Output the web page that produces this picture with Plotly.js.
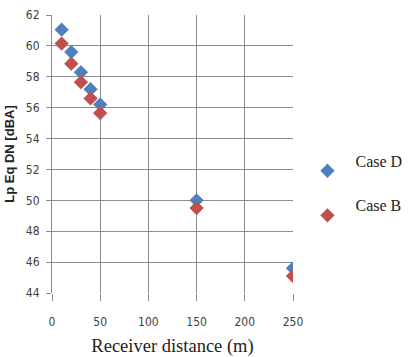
<!DOCTYPE html>
<html><head><meta charset="utf-8">
<script src="https://cdn.plot.ly/plotly-3.0.1.min.js"></script>
<style>html,body{margin:0;padding:0;background:#fff}#c{width:415px;height:357px}</style>
</head><body><div id="c"></div>
<script>
const distances = [10, 20, 30, 40, 50, 150, 250];
const caseD = [61.05, 59.6, 58.3, 57.2, 56.2, 50.0, 45.6];
const caseB = [60.15, 58.85, 57.65, 56.6, 55.65, 49.5, 45.1];
const xTicks = [0, 50, 100, 150, 200, 250];
const yTicks = [44, 46, 48, 50, 52, 54, 56, 58, 60, 62];
const seriesNames = ['Case D', 'Case B'];

const tickFont = {family: 'Liberation Sans Narrow, Arial Narrow, DejaVu Sans Condensed, sans-serif', size: 12, color: '#404040'};
const serif = 'Liberation Serif, Times New Roman, DejaVu Serif, serif';
const pad = '<br>&nbsp;';

const traces = [
  {x: distances, y: caseD, name: '&nbsp;&nbsp;' + seriesNames[0] + pad, legendgroup: 'd', type: 'scatter', mode: 'markers',
   marker: {symbol: 'diamond', size: 11, color: '#4F81BD'}},
  {x: distances, y: caseB, name: '&nbsp;&nbsp;' + seriesNames[1] + pad, legendgroup: 'b', type: 'scatter', mode: 'markers',
   marker: {symbol: 'diamond', size: 11, color: '#C0504D'}}
];

const layout = {
  width: 415, height: 357,
  margin: {l: 52, r: 122, t: 15, b: 64, autoexpand: false},
  paper_bgcolor: '#fff', plot_bgcolor: '#fff',
  showlegend: true,
  legend: {x: 1.06, y: 0.538, xanchor: 'left', yanchor: 'top', valign: 'middle',
    font: {family: serif, size: 16, color: '#222'}, tracegroupgap: 0, itemwidth: 30},
  xaxis: {range: [0, 250], tickvals: xTicks, ticktext: xTicks.map(String),
    showgrid: true, gridcolor: '#8c8c8c', gridwidth: 1, zeroline: false,
    showline: false, ticks: 'outside', ticklen: 7, tickcolor: '#8c8c8c',
    tickfont: tickFont, ticklabelstandoff: 11,
    title: {text: 'Receiver distance (m)', font: {family: serif, size: 18.5, color: '#222'}, standoff: 10}},
  yaxis: {range: [44, 62], tickvals: yTicks, ticktext: yTicks.map(String),
    showgrid: true, gridcolor: '#8c8c8c', gridwidth: 1, zeroline: false,
    showline: true, linecolor: '#8c8c8c', ticks: 'outside', ticklen: 5, tickcolor: '#8c8c8c',
    tickfont: tickFont, ticklabelstandoff: 4,
    title: {text: '<b>Lp Eq DN [dBA]</b>', font: {family: 'Liberation Sans Narrow, Liberation Sans, Arial, sans-serif', size: 13, color: '#222'}, standoff: 8}}
};

Plotly.newPlot('c', traces, layout, {displayModeBar: false, staticPlot: true});
</script></body></html>
